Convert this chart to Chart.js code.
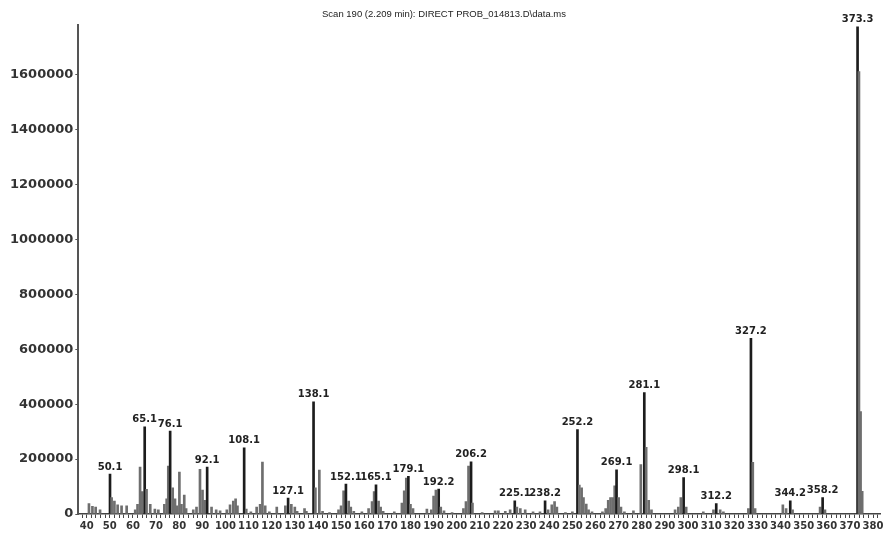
<!DOCTYPE html>
<html>
<head>
<meta charset="utf-8">
<script src="https://cdn.jsdelivr.net/npm/chart.js@4/dist/chart.umd.min.js"></script>
<style>
  html, body { margin:0; padding:0; background:#fff; }
  #wrap { width:884px; height:535px; position:relative; }
</style>
</head>
<body>
<div id="wrap"><canvas id="ms"></canvas></div>
<script>
// mass spectrum, scan 190
const TITLE = 'Scan 190 (2.209 min): DIRECT PROB_014813.D\\data.ms';

const mz = [
  41, 42.5, 43.9, 45.8, 50.1, 50.8, 52, 53.4, 55.1, 57.3,
  61, 62, 63.1, 64, 65.1, 65.9, 67.5, 69.5, 71, 73.6,
  74.6, 75.3, 76.1, 77.2, 78.2, 79, 80.1, 81, 82.2, 83,
  86.1, 87.5, 89, 90.1, 91, 92.1, 94, 96, 97.7, 100.6,
  102, 103.4, 104.4, 105.2, 108.1, 109, 111, 113.5, 115, 116,
  117.2, 119, 122.2, 125.9, 127.1, 128.5, 130, 131, 134.2, 135,
  138.1, 138.9, 140.6, 142, 145, 148.9, 150, 151.1, 152.1, 153.3,
  154.2, 155.5, 159, 161.9, 163.4, 164.3, 165.1, 166.2, 167.1, 168.2,
  173, 176.3, 177.3, 178.2, 179.1, 180, 181.1, 187.1, 189, 190,
  191, 192.2, 193.1, 194.5, 198, 202.9, 204, 205.1, 206.2, 206.8,
  211, 216.6, 218, 221, 223.1, 225.1, 226, 227.5, 229.6, 233,
  236, 238.2, 239.5, 241.1, 242.3, 243.3, 247, 250, 252.2, 253,
  254, 254.8, 256, 257, 258.5, 263, 264.4, 265.5, 266.5, 267.5,
  268.3, 269.1, 270, 271, 272.5, 276.4, 279.6, 281.1, 281.9, 283,
  284.2, 294.4, 295.8, 296.9, 298.1, 299.2, 306.6, 311, 312.2, 313.9,
  315.3, 326.1, 327.2, 328, 329, 341, 342.4, 344.2, 345.2, 357.1,
  358.2, 359.2, 373.3, 373.9, 374.6, 375.3
];
const intensity = [
  38000, 28000, 25000, 15000, 145000, 60000, 47000, 33000, 30000, 30000,
  15000, 35000, 171000, 82000, 318000, 90000, 35000, 18000, 15000, 35000,
  55000, 175000, 302000, 95000, 55000, 30000, 153000, 35000, 69000, 20000,
  15000, 25000, 163000, 87000, 50000, 171000, 25000, 15000, 12000, 15000,
  33000, 47000, 55000, 30000, 241000, 18000, 8000, 25000, 35000, 189000,
  30000, 8000, 25000, 30000, 58000, 35000, 25000, 10000, 20000, 10000,
  409000, 95000, 160000, 10000, 5000, 15000, 30000, 84000, 109000, 47000,
  25000, 10000, 8000, 20000, 45000, 82000, 106000, 47000, 25000, 10000,
  8000, 40000, 84000, 131000, 137000, 35000, 20000, 18000, 15000, 65000,
  87000, 91000, 25000, 12000, 5000, 20000, 45000, 175000, 190000, 40000,
  5000, 12000, 12000, 10000, 15000, 48000, 25000, 20000, 15000, 8000,
  8000, 48000, 15000, 33000, 45000, 25000, 5000, 8000, 308000, 105000,
  95000, 60000, 36000, 15000, 8000, 8000, 20000, 50000, 60000, 60000,
  103000, 161000, 60000, 25000, 8000, 12000, 180000, 442000, 243000, 50000,
  15000, 15000, 25000, 60000, 133000, 25000, 8000, 15000, 38000, 15000,
  8000, 20000, 640000, 188000, 20000, 33000, 20000, 48000, 15000, 25000,
  60000, 15000, 1775000, 1612000, 373000, 83000
];
const labelled = [50.1, 65.1, 76.1, 92.1, 108.1, 127.1, 138.1, 152.1, 165.1, 179.1,
  192.2, 206.2, 225.1, 238.2, 252.2, 269.1, 281.1, 298.1, 312.2, 327.2,
  344.2, 358.2, 373.3];
const yTicks = [0, 200000, 400000, 600000, 800000, 1000000, 1200000, 1400000, 1600000];

const isMajor = v => labelled.includes(v);

// peak labels over the labelled sticks
const peakLabels = {
  id: 'peakLabels',
  afterDatasetsDraw(chart){
    const ctx = chart.ctx;
    const meta = chart.getDatasetMeta(0);
    ctx.save();
    ctx.font = 'bold 10px "DejaVu Sans"';
    ctx.fillStyle = '#222';
    ctx.textAlign = 'center';
    ctx.textBaseline = 'bottom';
    meta.data.forEach((bar, i)=>{
      if (!isMajor(mz[i])) return;
      ctx.fillText(mz[i].toFixed(1), bar.x, bar.y - 2);
    });
    ctx.restore();
  }
};

new Chart(document.getElementById('ms'), {
  type: 'bar',
  data: {
    datasets: [{
      data: mz.map((x, i)=>({ x, y: intensity[i] })),
      barThickness: 2,
      grouped: false,
      borderWidth: 0,
      backgroundColor: c => isMajor(mz[c.dataIndex]) ? '#1c1c1c' : '#6e6e6e'
    }]
  },
  options: {
    animation: false,
    responsive: true,
    maintainAspectRatio: false,
    layout: { padding: { left: 8, right: 4, top: 0, bottom: 1 } },
    plugins: {
      legend: { display: false },
      tooltip: { enabled: false },
      title: {
        display: true,
        text: TITLE,
        color: '#222',
        font: { family: '"Liberation Sans Narrow", "Liberation Sans", Arial', size: 9.5, weight: 'normal' },
        padding: { top: 9, bottom: 5 }
      }
    },
    scales: {
      x: {
        type: 'linear',
        min: 36.4,
        max: 383,
        offset: false,
        grid: { display: true, offset: false, drawOnChartArea: false, tickLength: 4, color: '#444' },
        border: { display: true, color: '#444', width: 1.5 },
        ticks: {
          stepSize: 2,
          includeBounds: false,
          autoSkip: false,
          maxRotation: 0,
          padding: 2,
          color: '#333',
          font: { family: '"DejaVu Sans"', size: 10, weight: 'bold' },
          callback: v => (v % 10 === 0 ? String(v) : '')
        }
      },
      y: {
        min: 0,
        max: 1780000,
        grid: { display: true, drawOnChartArea: false, tickLength: 3, color: '#555' },
        border: { display: true, color: '#555', width: 2 },
        afterBuildTicks: axis => { axis.ticks = yTicks.map(value => ({ value })); },
        ticks: {
          padding: 2,
          color: '#333',
          font: { family: '"DejaVu Sans"', size: 13, weight: 'bold' },
          callback: v => String(v)
        }
      }
    }
  },
  plugins: [peakLabels]
});
</script>
</body>
</html>
